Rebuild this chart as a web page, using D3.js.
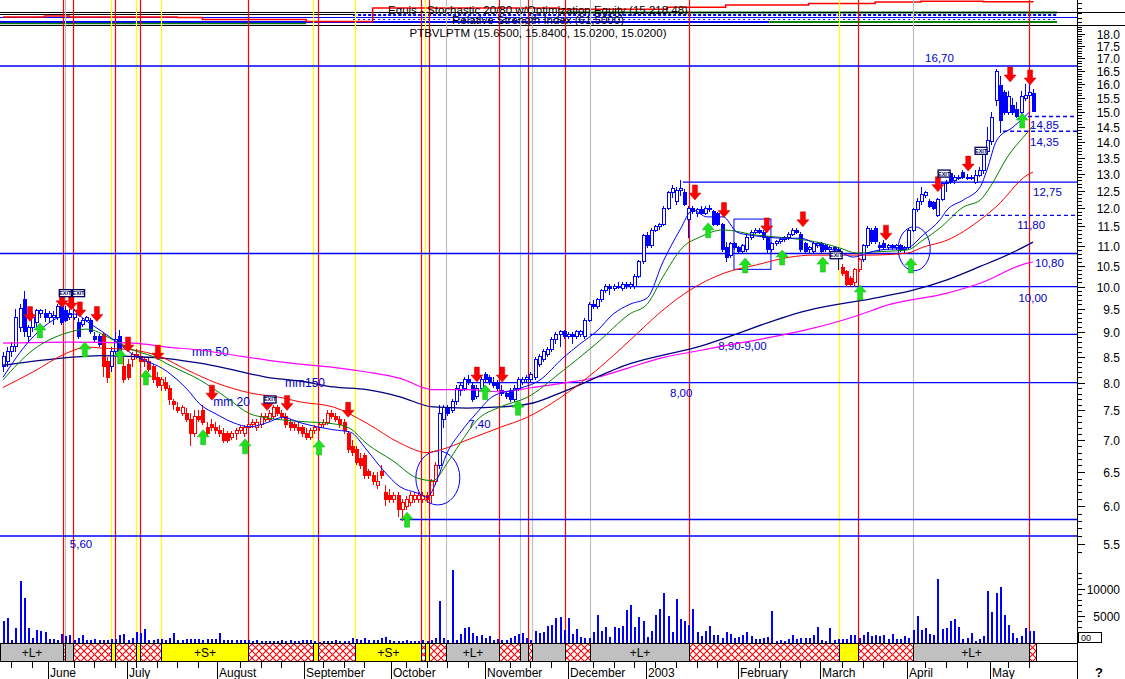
<!DOCTYPE html>
<html><head><meta charset="utf-8">
<script src="https://cdn.jsdelivr.net/npm/d3@7/dist/d3.min.js"></script>
<style>
html,body{margin:0;padding:0;background:#fff;}
svg{display:block;font-family:"Liberation Sans",Arial,Helvetica,sans-serif;}
</style></head><body>
<svg id="chart" width="1125" height="679"></svg>
<script>
// ---------------- DATA ----------------
const open=[8.3,8.4,8.6,8.7,9.1,9.7,8.9,9.1,9.2,9.4,
9.4,9.3,9.3,9.3,9.55,9.45,9.3,9.3,9.2,9.15,
9.25,9.25,8.9,8.9,8.95,8.4,8.3,8.6,8.9,8.3,
8.35,8.45,8.55,8.5,8.4,8.4,8.3,8.1,7.95,8.0,
7.9,7.65,7.55,7.45,7.45,7.35,7.1,7.4,7.5,7.2,
7.25,7.2,7.15,7.1,7.1,7.05,7.1,7.15,7.1,7.2,
7.25,7.2,7.25,7.35,7.35,7.4,7.55,7.45,7.4,7.3,
7.25,7.2,7.2,7.1,7.05,7.15,7.2,7.25,7.3,7.45,
7.4,7.35,7.3,7.1,6.9,6.85,6.7,6.75,6.5,6.45,
6.3,6.5,6.2,6.15,6.1,6.15,5.95,6.0,6.05,6.1,
6.1,6.1,6.15,6.15,6.35,6.6,7.35,7.55,7.5,7.65,
7.85,7.9,8.05,7.95,7.75,7.9,8.15,8.1,8.0,8.0,
7.85,7.8,7.85,7.7,7.9,8.0,8.05,8.05,8.1,8.35,
8.45,8.55,8.65,8.85,8.95,9.0,8.9,8.95,8.9,8.95,
8.9,9.25,9.6,9.55,9.7,9.9,10.0,9.95,10.0,9.95,
10.05,10.0,10.0,10.25,10.6,11.25,11.0,11.4,11.5,11.55,
12.0,12.45,12.2,12.5,12.45,11.7,12.0,11.85,11.95,11.85,
12.0,11.9,11.85,11.55,10.95,10.75,11.05,10.95,10.85,10.9,
11.2,11.35,11.4,11.35,11.2,10.9,11.05,11.1,11.15,11.2,
11.3,11.4,11.3,11.05,10.9,10.85,11.0,11.05,11.0,10.9,
10.95,10.9,10.45,10.35,10.2,10.1,10.4,10.65,11.0,11.4,
11.45,11.0,11.05,10.95,11.0,10.95,11.0,10.9,10.95,11.4,
11.95,12.2,12.35,12.2,12.15,11.8,12.25,12.7,13.0,12.8,
12.85,13.05,12.9,12.85,12.75,12.95,13.1,13.7,14.0,15.4,
15.95,15.7,15.0,15.25,15.1,15.0,15.5,15.6,15.65];
const high=[8.6,8.7,8.8,9.5,9.6,9.9,9.15,9.4,9.5,9.5,
9.5,9.45,9.45,9.6,9.7,9.55,9.5,9.5,9.3,9.3,
9.35,9.3,9.0,8.95,9.0,8.5,8.7,9.0,9.05,8.5,
8.45,8.6,8.65,8.6,8.5,8.5,8.35,8.2,8.1,8.1,
7.95,7.7,7.65,7.6,7.55,7.45,7.5,7.5,7.6,7.3,
7.35,7.3,7.25,7.2,7.15,7.15,7.2,7.25,7.25,7.3,
7.35,7.35,7.45,7.45,7.5,7.6,7.6,7.5,7.45,7.35,
7.3,7.3,7.25,7.2,7.2,7.25,7.3,7.35,7.5,7.5,
7.45,7.4,7.35,7.15,7.0,6.9,6.8,6.8,6.55,6.5,
6.5,6.6,6.3,6.25,6.2,6.2,6.1,6.15,6.2,6.2,
6.2,6.2,6.2,6.4,6.65,7.6,7.6,7.6,7.7,7.95,
8.0,8.1,8.15,8.0,7.95,8.1,8.2,8.15,8.1,8.05,
7.95,7.85,7.9,7.95,8.1,8.1,8.15,8.2,8.5,8.55,
8.65,8.7,8.9,9.0,9.05,9.05,9.0,9.0,9.05,9.05,
9.3,9.65,9.7,9.75,9.95,10.05,10.05,10.05,10.1,10.1,
10.1,10.1,10.3,10.65,11.3,11.35,11.45,11.55,11.6,12.05,
12.5,12.65,12.6,12.8,12.55,12.05,12.05,12.0,12.05,12.05,
12.1,11.95,11.9,11.6,11.1,11.1,11.1,11.0,11.05,11.3,
11.4,11.45,11.45,11.4,11.25,11.1,11.15,11.2,11.25,11.35,
11.45,11.45,11.35,11.1,11.0,11.1,11.1,11.1,11.05,11.0,
11.0,10.95,10.55,10.4,10.25,10.45,10.7,11.05,11.5,11.45,
11.5,11.1,11.15,11.05,11.05,11.05,11.05,11.0,11.45,12.0,
12.3,12.6,12.5,12.25,12.2,12.3,12.75,12.8,13.05,12.95,
12.95,13.1,13.0,12.95,13.1,13.2,13.8,14.5,15.0,16.6,
16.3,15.8,15.75,15.5,15.35,15.75,16.0,16.05,15.84];
const low=[8.2,8.3,8.5,8.6,9.0,8.9,8.8,9.0,9.1,9.3,
9.2,9.2,9.15,9.25,9.15,9.2,9.25,9.25,8.85,9.1,
9.2,8.95,8.8,8.7,8.1,8.0,8.2,8.5,8.35,8.0,
8.05,8.3,8.45,8.35,8.3,8.2,8.0,7.9,7.85,7.85,
7.6,7.5,7.45,7.4,7.3,6.9,7.05,7.3,7.25,7.05,
7.15,7.1,7.05,6.95,6.95,7.0,7.0,7.1,7.05,7.15,
7.2,7.15,7.2,7.3,7.3,7.35,7.4,7.35,7.2,7.15,
7.15,7.1,7.05,7.0,7.0,7.1,7.15,7.2,7.25,7.35,
7.3,7.2,7.1,6.8,6.75,6.6,6.55,6.4,6.4,6.3,
6.25,6.4,6.0,6.05,6.05,5.85,5.8,5.95,6.0,6.05,
6.05,6.05,6.05,6.05,6.3,6.55,7.2,7.4,7.45,7.6,
7.75,7.85,7.95,7.65,7.7,7.85,8.0,7.95,7.9,7.85,
7.75,7.7,7.65,7.65,7.85,7.95,8.0,8.0,8.05,8.3,
8.4,8.5,8.6,8.75,8.7,8.85,8.85,8.75,8.85,8.9,
8.85,9.2,9.5,9.5,9.65,9.85,9.8,9.9,9.95,9.9,
9.95,9.95,9.95,10.2,10.55,10.95,10.95,11.35,11.4,11.5,
11.95,12.3,12.1,12.35,12.05,11.2,11.85,11.75,11.8,11.8,
11.9,11.5,11.5,10.85,10.6,10.7,10.9,10.8,10.8,10.85,
11.15,11.3,11.3,11.15,10.8,10.85,11.0,11.05,11.1,11.15,
11.25,11.3,10.85,10.8,10.8,10.8,10.95,10.8,10.85,10.85,
10.85,10.4,10.25,10.0,10.0,9.98,10.35,10.6,10.95,11.05,
11.05,10.85,10.9,10.9,10.9,10.9,10.85,10.8,10.9,11.35,
11.9,12.1,12.3,12.0,11.95,11.75,12.2,12.45,12.7,12.7,
12.8,12.85,12.8,12.8,12.7,12.9,13.0,13.6,13.9,15.2,
14.3,14.9,14.9,14.9,14.8,14.95,15.4,15.45,15.02];
const close=[8.5,8.6,8.7,9.3,9.5,9.0,9.1,9.3,9.45,9.45,
9.3,9.4,9.35,9.55,9.2,9.25,9.4,9.45,8.9,9.25,
9.3,9.0,8.85,8.75,8.3,8.1,8.6,8.85,8.45,8.05,
8.1,8.55,8.5,8.4,8.45,8.25,8.05,7.95,8.05,7.9,
7.7,7.6,7.5,7.55,7.35,7.1,7.4,7.35,7.3,7.1,
7.2,7.15,7.1,7.0,7.0,7.1,7.15,7.2,7.2,7.25,
7.3,7.3,7.4,7.4,7.45,7.55,7.45,7.4,7.25,7.2,
7.2,7.15,7.1,7.05,7.15,7.2,7.25,7.3,7.45,7.4,
7.35,7.25,7.15,6.85,6.8,6.65,6.6,6.45,6.45,6.35,
6.35,6.45,6.1,6.1,6.15,5.95,6.05,6.1,6.15,6.15,
6.15,6.15,6.1,6.35,6.6,7.45,7.55,7.45,7.65,7.9,
7.95,8.05,8.0,7.7,7.9,8.05,8.05,8.0,7.95,7.9,
7.8,7.75,7.7,7.9,8.05,8.05,8.1,8.15,8.45,8.5,
8.6,8.65,8.85,8.95,9.0,8.9,8.95,8.9,9.0,9.0,
9.25,9.6,9.55,9.7,9.9,10.0,9.95,10.0,10.0,10.05,
10.0,10.05,10.25,10.6,11.25,11.0,11.4,11.5,11.55,12.0,
12.45,12.55,12.5,12.55,12.1,12.0,11.9,11.95,11.85,12.0,
11.95,11.55,11.55,10.9,10.7,11.05,10.95,10.85,11.0,11.2,
11.35,11.4,11.35,11.2,10.9,11.05,11.1,11.15,11.2,11.3,
11.4,11.35,10.9,10.85,10.95,11.05,11.05,10.85,10.9,10.95,
10.9,10.7,10.3,10.05,10.05,10.4,10.65,11.0,11.45,11.1,
11.1,10.95,10.95,11.0,10.95,11.0,10.9,10.95,11.4,11.95,
12.2,12.4,12.45,12.05,12.0,12.25,12.7,12.75,12.75,12.9,
12.9,12.9,12.85,12.9,12.95,13.1,13.7,14.05,14.8,16.5,
14.7,15.0,15.55,15.0,14.85,15.55,15.6,15.7,15.02];
// volume in thousands of shares
const volume=[4.0,4.7,0.6,2.7,11.4,8.4,2.8,1.0,2.5,2.3,
2.1,0.8,0.8,0.5,1.75,1.3,1.5,0.6,1.0,1.4,
0.6,0.6,0.8,0.5,0.6,0.6,0.8,0.8,1.5,1.6,
0.6,1.0,2.1,1.8,2.6,0.6,0.6,0.8,0.8,0.5,
1.0,1.8,0.5,0.6,0.8,0.8,0.8,0.8,0.6,0.8,
0.8,0.8,1.9,0.5,0.6,0.6,0.6,0.6,0.5,0.5,
0.4,0.5,0.4,0.3,0.3,0.3,0.4,0.5,0.4,0.5,
0.3,0.4,0.6,0.5,0.5,0.3,0.2,0.3,0.3,0.3,
0.5,0.4,0.4,0.4,1.0,0.8,0.6,1.0,0.6,0.5,
0.6,0.9,1.1,0.5,0.4,0.3,0.45,0.5,0.4,0.3,
0.45,0.5,0.45,0.6,1.0,7.7,1.0,0.6,13.5,0.5,
1.6,2.7,2.9,1.9,1.3,1.4,1.0,1.3,0.6,0.8,
0.5,0.6,1.0,1.3,1.6,1.9,1.0,0.6,2.3,1.9,
2.1,3.2,3.4,4.7,
4.8,2.4,4.6,1.6,2.6,1.1,1.0,1.0,2.0,5.2,
2.3,2.9,1.2,2.9,2.7,3.1,6.2,7.0,2.9,4.9,
4.1,1.2,2.3,5.2,6.3,9.2,5.0,2.0,8.2,4.4,
4.1,3.4,6.3,2.0,1.3,2.2,3.1,1.4,1.4,0.9,
2.0,1.7,1.0,1.2,1.4,2.1,1.3,0.8,0.7,1.0,
1.2,6.0,0.3,0.5,0.3,0.7,1.5,0.7,1.0,1.0,
1.0,1.5,2.9,0.5,0.3,2.8,0.5,0.8,0.7,0.8,
1.5,1.4,1.0,1.4,2.1,1.3,1.4,1.3,1.4,0.7,
1.6,0.7,0.8,1.3,1.0,2.4,5.0,2.4,2.7,1.6,
1.5,11.9,2.6,2.7,4.1,4.4,2.9,0.8,1.0,1.8,
0.3,0.7,1.3,9.7,5.7,9.3,10.3,5.2,3.4,1.8,
1.0,1.3,2.7,2.2,2.2];
// bars drawn in red (trend filter), as [fromBar, toBar]
const redCandleRanges=[[24,25],[29,104],[202,206]];

// moving averages [bar, value]
const maFast=[[0,8.1],[6.5,8.83],[13.7,9.32],[17.3,9.38],[20.9,9.18],[25.8,8.89],[31.3,8.54],[39.5,8.21],[44.3,7.88],[47.4,7.61],[51.5,7.43],[55.4,7.29],[59.5,7.22],[63.6,7.29],[67.4,7.38],[71.5,7.29],[79.5,7.17],[83.6,7.13],[87.6,6.84],[91.5,6.53],[95.6,6.28],[99.7,6.19],[102.1,6.13],[104.5,6.38],[106.9,6.79],[110,7.11],[114.1,7.46],[118,7.75],[123.8,7.88],[129.3,8.05],[134.8,8.47],[138.9,8.75],[143,9.02],[146.9,9.38],[151,9.6],[155.1,9.74],[158.9,10.59],[163,11.41],[166.1,11.95],[169.5,11.76],[173.4,11.76],[176.7,11.35],[179.9,11.27],[184,11.22],[187.8,11.19],[191.9,11.19],[197.4,10.96],[201.5,10.84],[204.7,10.71],[208,10.81],[211.2,10.89],[217.7,10.94],[221.5,11.27],[225.6,11.68],[227.3,11.95],[231.2,12.23],[235.3,12.61],[236.9,13.11],[239.3,14.06],[243.2,14.49],[247.3,15.02]];
const ma20=[[0,8.05],[7.2,8.63],[15.4,8.98],[20.2,9.06],[25.8,8.87],[31.3,8.63],[36.1,8.5],[40.9,8.3],[47.4,8.05],[53.9,7.72],[59.5,7.44],[63.6,7.37],[71.5,7.31],[79.5,7.27],[83.6,7.19],[87.6,6.94],[93.9,6.67],[99.7,6.41],[103.5,6.37],[106.9,6.63],[110,6.94],[114.1,7.33],[119.7,7.56],[126.2,7.73],[134.1,8.18],[143,8.77],[151,9.39],[155.1,9.6],[158.9,10.23],[163.7,10.96],[167.8,11.22],[173.4,11.41],[181.5,11.27],[189.5,11.19],[197.4,11.06],[201.5,10.94],[205.6,10.81],[209.5,10.84],[217.7,10.89],[221.5,11.14],[225.6,11.46],[231.2,12.03],[235.3,12.23],[237.7,12.61],[241.8,13.51],[246.6,14.3],[248,14.53]];
const ma50=[[0,7.91],[7.2,8.2],[15.4,8.57],[20.2,8.69],[23.4,8.67],[31.3,8.63],[37.8,8.5],[44.3,8.24],[51.5,7.99],[59.5,7.81],[67.4,7.72],[71.5,7.65],[79.5,7.56],[87.6,7.28],[95.6,6.95],[102.1,6.8],[105.2,6.84],[111.7,7.0],[119.7,7.21],[126.2,7.38],[134.1,7.72],[143,8.24],[151,8.83],[158.9,9.47],[165.4,9.92],[173.4,10.31],[181.5,10.52],[189.5,10.71],[195,10.76],[208,10.76],[217.7,10.81],[221.5,10.96],[227.3,11.14],[235.3,11.68],[239.3,12.06],[246.6,12.96],[248,13.05]];
const ma150=[[0,8.33],[15.4,8.48],[23.4,8.52],[31.3,8.5],[39.5,8.46],[47.4,8.37],[55.4,8.24],[63.6,8.1],[71.5,8.03],[79.5,7.92],[87.6,7.87],[95.6,7.74],[103.5,7.56],[111.7,7.54],[119.7,7.56],[127.6,7.63],[134.8,7.83],[151,8.36],[167.1,8.69],[193.6,9.46],[211.2,9.76],[219.1,9.92],[227.3,10.16],[235.3,10.48],[243.2,10.83],[248,11.09]];
const ma200=[[0,8.77],[15.4,8.79],[31.3,8.77],[39.5,8.69],[47.4,8.63],[55.4,8.53],[63.6,8.43],[71.5,8.35],[79.5,8.29],[87.6,8.2],[95.6,8.08],[103.5,7.87],[111.7,7.87],[119.7,7.83],[127.6,7.91],[134.8,7.99],[143,8.1],[151,8.29],[158.9,8.48],[167.8,8.62],[209.5,9.47],[211.2,9.53],[227.3,9.85],[235.3,10.08],[246.6,10.56],[248,10.59]];
const maLabels=["mm 50","mm150","mm 20"];
const maLabelBar=[45.5,67.9,50.6];
const maLabelPrice=[8.51,7.92,7.57];

// system signals (bar positions)
const exitSignals=[14.33,16.9,27.07,33.08,58.87,75.82,100.75,102.65,119.5,126.46,135.42,165.18,205.97,246.93];
const longSignals=[15.03,106.77,124.58,127.4,141.34,219.17];
const shortSignals=[26.1,32.12,38.14,74.69,84.85,101.61,201.21];
const sellArrows=[[6.5,9.22],[14.2,9.52],[16.4,9.47],[18.5,9.32],[22.6,9.22],[30.1,8.59],[37.3,8.43],[50.3,7.68],[63.6,7.5],[68.4,7.5],[83.1,7.38],[114.1,8.01],[120.2,8.01],[166.6,12.23],[173.6,11.74],[183.9,11.33],[192.6,11.49],[212.6,11.14],[225.1,12.47],[232.4,13.08],[242.5,16.09],[247.3,15.98]];
const buyArrows=[[8.9,9.19],[19.7,8.79],[28.2,8.65],[34.4,8.24],[48.2,7.17],[58.3,7.02],[76.1,7.0],[97.3,5.92],[116.1,7.96],[124.0,7.68],[169.8,11.6],[178.7,10.69],[187.6,10.89],[197.4,10.71],[206.4,10.04],[218.6,10.69],[245.4,14.97]];
const exitMarks=[[15.0,9.77],[18.2,9.77],[64.3,7.63],[200.6,10.67],[226.6,12.9],[235.5,13.6]];

// support / resistance levels
const levelPrices=[16.70,14.85,14.35,12.75,11.80,10.80,10.00,8.95,8.00,5.82,5.60];
const levelStartBar=[null,246.8,240.8,163.7,226.8,null,148.1,141.3,109.3,95.6,null];
const levelDashed=[false,true,true,false,true,false,false,false,false,false,false];
const levelLabels=["16,70","14,85","14,35","12,75","11,80","10,80","10,00","8,90-9,00","8,00","7,40","5,60"];
const levelLabelPrice=[16.70,14.85,14.35,12.75,11.80,10.80,10.00,8.95,8.00,7.40,5.60];
const levelLabelBar=[222.0,247.3,247.3,248.0,244.2,248.5,244.5,172.2,160.6,112.0,16.1];
const boxBars=[176.0,184.9], boxPrices=[11.70,10.41];
const circles=[[104.7,6.41],[219.4,10.92]];

// axis labels
const months=["June","July","August","September","October","November","December","2003","February","March","April","May"];
const monthBar=[10.8,29.9,51.5,72.5,93.4,116.1,136.0,154.9,177.0,196.8,217.7,237.7];
const priceTickValues=d3.range(53,184).map(k=>k/10);
const volTickValues=[5000,10000];
const titles=["Equis - Stochastic 20/80 w/Optimization Equity (15.218,48)","Relative Strength Index (61,5000)","PTBVLPTM (15.6500, 15.8400, 15.0200, 15.0200)"];
// optimisation equity (thousands) for the top strip
const equity=[[0,10.5],[10,10.8],[16,10.5],[42,10.35],[48,9.7],[73,9.1],[88.5,9.1],[89,13.4],[134,13.0],[160,13.6],[174,14.3],[194,14.8],[210,15.3],[221,15.5],[236,15.4],[248,15.2]];

// ---------------- LAYOUT ----------------
const L={W:1125,H:679,axisX:1077.5,priceTop:25,priceBot:560,volBase:643,bandTop:643,bandBot:661,
  levelLabelDy:[-4,12,15,14,14,13,15,16,14,12,12], circleR:[[22,27],[16,22]]};
const BLUE="#0000ff", RED="#ff0000";

const svg=d3.select("#chart");
const x=d3.scaleLinear().domain([0,248]).range([3,1033]);
const y=d3.scaleLog().domain([5.297,18.37]).range([L.priceBot,L.priceTop]);
const yv=d3.scaleLinear().domain([0,10000]).range([L.volBase,589]);
const he=d3.scaleLinear().domain([8.3,15.6]).range([24,1]);
const px=v=>Math.round(v)+0.5;

// hatch pattern
const defs=svg.append("defs");
const pat=defs.append("pattern").attr("id","hatch").attr("patternUnits","userSpaceOnUse").attr("width",7).attr("height",7);
pat.append("rect").attr("width",7).attr("height",7).attr("fill","#fff");
pat.append("path").attr("d","M0,0L7,7M7,0L0,7").attr("stroke",RED).attr("stroke-width",1.1);

svg.append("rect").attr("width",L.W).attr("height",L.H).attr("fill","#fff");

// ---------- header strip ----------
const hdr=svg.append("g");
function hline(x1,x2,yy,col,w,dash){const l=hdr.append("line").attr("x1",x1).attr("x2",x2).attr("y1",yy).attr("y2",yy).attr("stroke",col).attr("stroke-width",w||1);if(dash)l.attr("stroke-dasharray",dash);return l;}
hline(0,L.axisX,17.5,BLUE,1);
hline(0,x(184.5),22,BLUE,2);
hline(0,x(73),23.5,"#008000",1.5);
hline(x(134),1057,12.5,"#008000",2);
hline(x(184.5),1057,22,"#008000",2);
hline(x(84.3),1057,15,BLUE,2,"3,2");
hline(x(84.3),1057,19.5,BLUE,1.2,"2,3");
hline(0,L.W,12.5,"#000",1);
hline(0,x(84.3),14.5,"#000",1);
hline(0,L.W,25.5,"#000",1);
hdr.append("path").datum(equity)
  .attr("d",d3.line().x(d=>x(d[0])).y(d=>he(d[1])).curve(d3.curveStepAfter))
  .attr("fill","none").attr("stroke",RED).attr("stroke-width",1.5);

// ---------- signal verticals ----------
const vg=svg.append("g");
function vlines(arr,col){arr.forEach(i=>vg.append("line").attr("x1",px(x(i))).attr("x2",px(x(i))).attr("y1",0).attr("y2",L.bandTop).attr("stroke",col).attr("stroke-width",1.2));}
vlines(longSignals,"#c0c0c0");
vlines(shortSignals,"#ffff00");
vlines(exitSignals,RED);

// titles
titles.forEach((t,k)=>svg.append("text").attr("x",538).attr("y",[14,24,37][k]).attr("text-anchor","middle")
  .attr("font-size","11.5px").attr("fill","#000").text(t));

// ---------- levels ----------
const lg=svg.append("g");
levelPrices.forEach((p,k)=>{
  const x1=levelStartBar[k]==null?0:x(levelStartBar[k]);
  const l=lg.append("line").attr("x1",x1).attr("x2",L.axisX).attr("y1",y(p)).attr("y2",y(p))
    .attr("stroke",BLUE).attr("stroke-width",1.4);
  if(levelDashed[k]) l.attr("stroke-dasharray","4,3");
});
levelLabels.forEach((t,k)=>lg.append("text").attr("x",x(levelLabelBar[k])).attr("y",y(levelLabelPrice[k])+L.levelLabelDy[k])
  .attr("font-size","11.5px").attr("fill","#0000cc").text(t));
maLabels.forEach((t,k)=>lg.append("text").attr("x",x(maLabelBar[k])).attr("y",y(maLabelPrice[k]))
  .attr("font-size","12px").attr("fill","#0000cc").text(t));
lg.append("rect").attr("x",x(boxBars[0])).attr("y",y(boxPrices[0])).attr("width",x(boxBars[1])-x(boxBars[0]))
  .attr("height",y(boxPrices[1])-y(boxPrices[0])).attr("fill","none").attr("stroke",BLUE);
circles.forEach((c,k)=>lg.append("ellipse").attr("cx",x(c[0])).attr("cy",y(c[1])).attr("rx",L.circleR[k][0]).attr("ry",L.circleR[k][1])
  .attr("fill","none").attr("stroke",BLUE));

// ---------- candles ----------
const cg=svg.append("g").attr("shape-rendering","crispEdges");
const isRed=i=>redCandleRanges.some(r=>i>=r[0]&&i<=r[1]);
close.forEach((c,i)=>{
  const o=open[i], col=isRed(i)?RED:BLUE, xc=Math.round(x(i));
  cg.append("line").attr("x1",xc+0.5).attr("x2",xc+0.5).attr("y1",y(high[i])).attr("y2",y(low[i])).attr("stroke",col);
  const top=y(Math.max(o,c)), bot=y(Math.min(o,c)), h=Math.max(1,bot-top);
  if(c>o){
    cg.append("rect").attr("x",xc-1).attr("y",top).attr("width",3).attr("height",h).attr("fill","#fff").attr("stroke",col);
  } else {
    cg.append("rect").attr("x",xc-1).attr("y",top).attr("width",3).attr("height",h).attr("fill",col).attr("stroke",col);
  }
});

// ---------- moving averages ----------
const mg=svg.append("g");
const ln=d3.line().x(d=>x(d[0])).y(d=>y(d[1])).curve(d3.curveMonotoneX);
[[ma200,"#ff00ff",1.2],[ma150,"#000080",1.3],[ma50,RED,1],[ma20,"#008000",1],[maFast,BLUE,1]].forEach(([d,col,w])=>
  mg.append("path").datum(d).attr("d",ln).attr("fill","none").attr("stroke",col).attr("stroke-width",w));

// ---------- arrows & exit marks ----------
const ag=svg.append("g");
sellArrows.forEach(([i,p])=>ag.append("path").attr("transform",`translate(${x(i)},${y(p)})`)
  .attr("d","M0,0L-6,-7L-2.5,-7L-2.5,-15L2.5,-15L2.5,-7L6,-7Z").attr("fill",RED).attr("stroke","#d00000").attr("stroke-width",0.5));
buyArrows.forEach(([i,p])=>ag.append("path").attr("transform",`translate(${x(i)},${y(p)})`)
  .attr("d","M0,0L-6,7L-2.5,7L-2.5,15L2.5,15L2.5,7L6,7Z").attr("fill","#1ee01e").attr("stroke","#10b010").attr("stroke-width",0.5));
exitMarks.forEach(([i,p])=>{
  const g=ag.append("g").attr("transform",`translate(${x(i)},${y(p)})`);
  g.append("rect").attr("x",-6).attr("y",-7).attr("width",12).attr("height",7).attr("fill","#fff").attr("stroke","#000060").attr("stroke-width",1.3);
  g.append("text").attr("x",0).attr("y",-1.5).attr("text-anchor","middle").attr("font-size","5.5px").attr("font-weight","bold").attr("fill","#000060").text("EXIT");
});

// ---------- volume ----------
const vb=svg.append("g").attr("shape-rendering","crispEdges");
volume.forEach((v,i)=>{const vv=v*1000, xc=Math.round(x(i));
  vb.append("rect").attr("x",xc-0.5).attr("y",yv(vv)).attr("width",2).attr("height",L.volBase-yv(vv)).attr("fill",BLUE);});

// ---------- bands ----------
const events=[];
exitSignals.forEach(i=>events.push({i,t:"flat"}));
longSignals.forEach(i=>events.push({i,t:"long"}));
shortSignals.forEach(i=>events.push({i,t:"short"}));
events.sort((a,b)=>a.i-b.i);
const bands=[];let cur={i:x.invert(0),t:"long"};
events.forEach(e=>{bands.push({i0:cur.i,i1:e.i,t:cur.t});cur=e;});
bands.push({i0:cur.i,i1:x.invert(1036),t:cur.t});
const bg=svg.append("g").attr("shape-rendering","crispEdges");
bands.forEach(b=>{
  const x0=Math.round(x(b.i0))+0.5, x1=Math.round(x(b.i1))+0.5;
  bg.append("rect").attr("x",x0).attr("y",L.bandTop+0.5).attr("width",Math.max(1,x1-x0)).attr("height",L.bandBot-L.bandTop)
    .attr("fill",b.t==="long"?"#c0c0c0":b.t==="short"?"#ffff00":"url(#hatch)").attr("stroke","#000");
  if(b.t!=="flat"&&x1-x0>40) svg.append("text").attr("x",(x0+x1)/2).attr("y",656.5).attr("text-anchor","middle")
    .attr("font-size","12px").attr("fill","#000").text(b.t==="long"?"+L+":"+S+");
});
const fg=svg.append("g").attr("shape-rendering","crispEdges");
fg.append("line").attr("x1",0).attr("x2",L.axisX).attr("y1",L.bandTop+0.5).attr("y2",L.bandTop+0.5).attr("stroke","#000");
fg.append("line").attr("x1",0).attr("x2",L.axisX).attr("y1",L.bandBot+0.5).attr("y2",L.bandBot+0.5).attr("stroke","#000");

// ---------- time axis ----------
const monthX=monthBar.map(b=>x(b));
d3.range(2,249,5).forEach(b=>{const xx=x(b); if(monthX.some(m=>Math.abs(m-xx)<6))return;
  fg.append("line").attr("x1",px(xx)).attr("x2",px(xx)).attr("y1",L.bandBot).attr("y2",L.bandBot+7).attr("stroke","#000");});
months.forEach((m,k)=>{const xx=px(monthX[k]);
  fg.append("line").attr("x1",xx).attr("x2",xx).attr("y1",L.bandBot).attr("y2",L.H).attr("stroke","#000");
  svg.append("text").attr("x",xx+1.5).attr("y",677).attr("font-size","12px").attr("fill","#000").text(m);});

// ---------- right axis ----------
fg.append("line").attr("x1",L.axisX).attr("x2",L.axisX).attr("y1",0).attr("y2",L.H).attr("stroke","#000");
[3,8,13,18,22].forEach(t=>fg.append("line").attr("x1",L.axisX).attr("x2",L.axisX+4).attr("y1",t+0.5).attr("y2",t+0.5).attr("stroke","#000"));
priceTickValues.forEach(v=>{const yy=px(y(v)); if(yy<27||yy>L.priceBot)return;
  const major=Math.round(v*10)%5===0;
  fg.append("line").attr("x1",L.axisX).attr("x2",L.axisX+(major?7:4)).attr("y1",yy).attr("y2",yy).attr("stroke","#000");
  if(major) svg.append("text").attr("x",1120).attr("y",yy+4).attr("text-anchor","end").attr("font-size","12px").attr("fill","#000").text(v.toFixed(1));
});
d3.range(0,14000,1000).forEach(v=>{const yy=px(yv(v)); if(yy>L.volBase-2)return;
  const major=volTickValues.includes(v);
  fg.append("line").attr("x1",L.axisX).attr("x2",L.axisX+(major?7:4)).attr("y1",yy).attr("y2",yy).attr("stroke","#000");
  if(major) svg.append("text").attr("x",1120).attr("y",yy+4).attr("text-anchor","end").attr("font-size","12px").attr("fill","#000").text(String(v));
});
fg.append("rect").attr("x",1078.5).attr("y",632.5).attr("width",23).attr("height",10).attr("fill","#fff").attr("stroke","#000");
svg.append("text").attr("x",1081).attr("y",641).attr("font-size","9px").attr("fill","#000").text("00");
svg.append("text").attr("x",1099).attr("y",677).attr("text-anchor","middle").attr("font-size","13px").attr("font-weight","bold").attr("fill","#000").text("?");
</script>
</body></html>
